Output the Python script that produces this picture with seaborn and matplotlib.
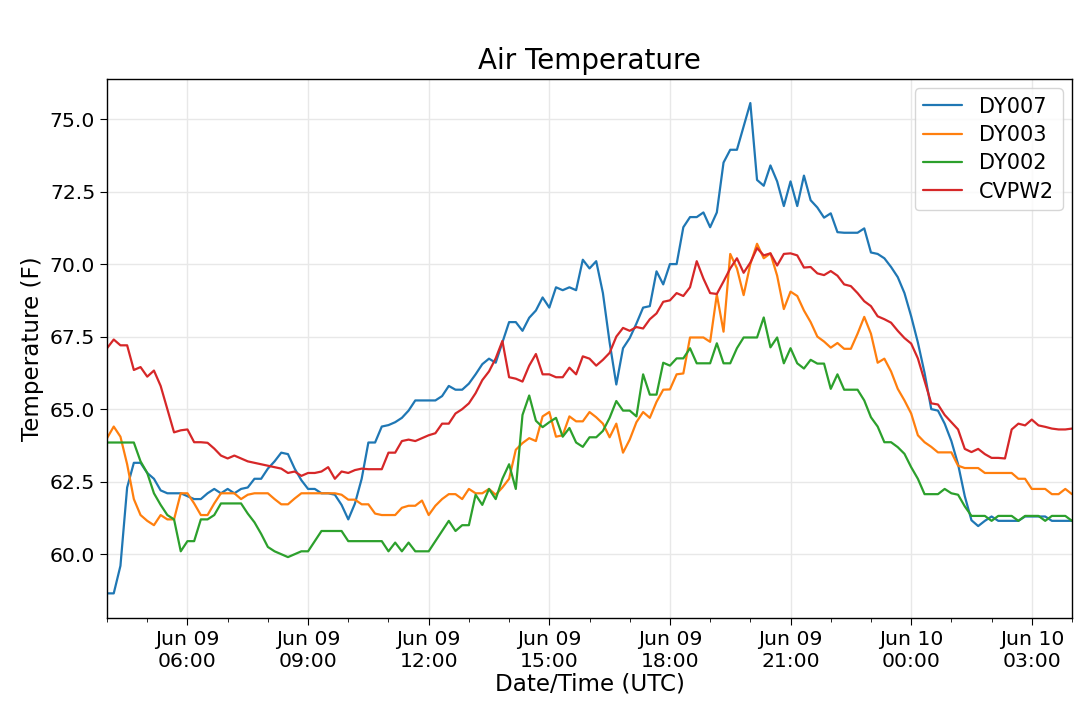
import matplotlib
matplotlib.use('Agg')
import matplotlib.pyplot as plt
import matplotlib.dates as mdates
from matplotlib.ticker import MultipleLocator, FormatStrFormatter
import seaborn as sns
import pandas as pd

# 10-minute readings, Jun 09 04:00 -> Jun 10 04:00 UTC
start = '2019-06-09 04:00'

dy007 = [58.65, 58.65, 59.6, 62.3, 63.15, 63.15, 62.8, 62.6, 62.2, 62.1, 62.1, 62.1, 62.0, 61.9, 61.9, 62.1, 62.25, 62.1, 62.25, 62.1, 62.25, 62.3,
         62.6, 62.6, 62.95, 63.2, 63.5, 63.45, 62.95, 62.55, 62.25, 62.25, 62.1, 62.1, 62.05, 61.7, 61.2, 61.75, 62.6, 63.85, 63.85, 64.4, 64.45,
         64.55, 64.7, 64.95, 65.3, 65.3, 65.3, 65.3, 65.45, 65.8, 65.67, 65.67, 65.88, 66.2, 66.55, 66.74, 66.6, 67.3, 68.0, 68.0, 67.7, 68.15,
         68.4, 68.85, 68.5, 69.2, 69.1, 69.2, 69.1, 70.15, 69.85, 70.1, 69.0, 67.3, 65.85, 67.1, 67.45, 67.95, 68.5, 68.55, 69.75, 69.3, 70.0,
         70.0, 71.27, 71.62, 71.62, 71.78, 71.27, 71.78, 73.5, 73.94, 73.94, 74.75, 75.55, 72.9, 72.7, 73.4, 72.85, 72.0, 72.85, 72.0, 73.05, 72.2,
         71.95, 71.6, 71.75, 71.1, 71.08, 71.08, 71.08, 71.23, 70.4, 70.35, 70.2, 69.9, 69.55, 69.0, 68.2, 67.3, 66.25, 65.0, 64.95, 64.5, 63.9,
         63.1, 62.0, 61.17, 60.97, 61.15, 61.3, 61.15, 61.15, 61.15, 61.15, 61.3, 61.3, 61.3, 61.3, 61.15, 61.15, 61.15, 61.15]

dy003 = [64.0, 64.4, 64.05, 63.1, 61.9, 61.35, 61.15, 61.0, 61.35, 61.2, 61.2, 62.1, 62.1, 61.75, 61.35, 61.35, 61.75, 62.1, 62.1, 62.1, 61.9, 62.05,
         62.1, 62.1, 62.1, 61.9, 61.72, 61.72, 61.92, 62.1, 62.1, 62.1, 62.1, 62.1, 62.1, 62.05, 61.88, 61.88, 61.72, 61.72, 61.4, 61.35, 61.35,
         61.35, 61.6, 61.67, 61.67, 61.85, 61.35, 61.67, 61.9, 62.07, 62.07, 61.9, 62.25, 62.1, 62.1, 62.25, 62.05, 62.3, 62.6, 63.6, 63.83, 64.0,
         63.9, 64.75, 64.9, 64.05, 64.1, 64.75, 64.58, 64.58, 64.9, 64.72, 64.5, 64.03, 64.5, 63.5, 63.95, 64.55, 64.9, 64.7, 65.25, 65.67, 65.68,
         66.2, 66.23, 67.47, 67.47, 67.47, 67.32, 68.95, 67.67, 70.35, 69.85, 68.93, 70.0, 70.7, 70.2, 70.37, 69.6, 68.45, 69.05, 68.9, 68.4, 68.0,
         67.5, 67.33, 67.12, 67.28, 67.08, 67.08, 67.6, 68.18, 67.6, 66.6, 66.74, 66.3, 65.7, 65.3, 64.85, 64.1, 63.86, 63.7, 63.51, 63.51, 63.51,
         63.05, 62.97, 62.97, 62.97, 62.8, 62.8, 62.8, 62.8, 62.8, 62.6, 62.6, 62.25, 62.25, 62.25, 62.07, 62.07, 62.25, 62.07]

dy002 = [63.85, 63.85, 63.85, 63.85, 63.85, 63.2, 62.8, 62.1, 61.7, 61.35, 61.2, 60.1, 60.45, 60.45, 61.2, 61.2, 61.35, 61.75, 61.75, 61.75, 61.75, 61.4,
         61.1, 60.7, 60.25, 60.1, 60.0, 59.9, 60.0, 60.1, 60.1, 60.45, 60.8, 60.8, 60.8, 60.8, 60.45, 60.45, 60.45, 60.45, 60.45, 60.45, 60.1,
         60.4, 60.1, 60.4, 60.1, 60.1, 60.1, 60.45, 60.8, 61.15, 60.8, 61.0, 61.0, 62.05, 61.7, 62.25, 61.9, 62.6, 63.1, 62.25, 64.8, 65.47,
         64.6, 64.38, 64.55, 64.7, 64.05, 64.35, 63.85, 63.7, 64.03, 64.03, 64.25, 64.7, 65.28, 64.95, 64.95, 64.75, 66.2, 65.5, 65.5, 66.6, 66.5,
         66.75, 66.75, 67.1, 66.58, 66.58, 66.58, 67.27, 66.58, 66.58, 67.1, 67.47, 67.47, 67.47, 68.16, 67.13, 67.47, 66.58, 67.1, 66.58, 66.4, 66.7,
         66.57, 66.57, 65.7, 66.2, 65.67, 65.67, 65.67, 65.3, 64.72, 64.4, 63.86, 63.86, 63.69, 63.46, 63.0, 62.6, 62.07, 62.07, 62.07, 62.25, 62.1,
         62.05, 61.65, 61.32, 61.32, 61.32, 61.15, 61.32, 61.32, 61.32, 61.15, 61.32, 61.32, 61.32, 61.15, 61.32, 61.32, 61.32, 61.15]

cvpw2 = [67.1, 67.4, 67.2, 67.2, 66.35, 66.45, 66.12, 66.33, 65.8, 65.0, 64.2, 64.27, 64.3, 63.86, 63.86, 63.84, 63.64, 63.4, 63.3, 63.4, 63.3, 63.2,
         63.15, 63.1, 63.05, 63.0, 62.95, 62.8, 62.85, 62.7, 62.8, 62.8, 62.85, 63.0, 62.6, 62.85, 62.8, 62.9, 62.95, 62.93, 62.93, 62.93, 63.5,
         63.5, 63.9, 63.95, 63.9, 64.0, 64.1, 64.17, 64.5, 64.5, 64.85, 65.0, 65.2, 65.55, 66.0, 66.3, 66.75, 67.35, 66.1, 66.05, 65.95, 66.5,
         66.9, 66.2, 66.2, 66.1, 66.1, 66.43, 66.2, 66.82, 66.74, 66.5, 66.7, 66.94, 67.5, 67.8, 67.7, 67.83, 67.78, 68.1, 68.3, 68.7, 68.75,
         69.0, 68.9, 69.2, 70.1, 69.5, 69.0, 68.97, 69.4, 69.85, 70.2, 69.7, 70.05, 70.55, 70.3, 70.37, 69.95, 70.35, 70.37, 70.3, 69.88, 69.9,
         69.68, 69.62, 69.76, 69.6, 69.3, 69.24, 69.0, 68.72, 68.55, 68.2, 68.1, 67.98, 67.7, 67.45, 67.26, 66.75, 65.98, 65.2, 65.16, 64.8, 64.55,
         64.3, 63.63, 63.52, 63.63, 63.45, 63.32, 63.32, 63.3, 64.3, 64.5, 64.44, 64.64, 64.44, 64.39, 64.33, 64.3, 64.3, 64.33]

stations = ['DY007', 'DY003', 'DY002', 'CVPW2']
series = [dy007, dy003, dy002, cvpw2]

times = pd.date_range(start, periods=len(dy007), freq='10min')
frames = []
for name, vals in zip(stations, series):
    frames.append(pd.DataFrame({'time': times, 'temp': vals, 'station': name}))
df = pd.concat(frames, ignore_index=True)

sns.set_style('ticks')
plt.rcParams['font.family'] = ['DejaVu Sans']
plt.rcParams['text.color'] = 'black'
plt.rcParams['axes.labelcolor'] = 'black'
plt.rcParams['xtick.color'] = 'black'
plt.rcParams['ytick.color'] = 'black'

fig = plt.figure(figsize=(10.79, 7.09), dpi=100)
ax = fig.add_axes([0.0992, 0.1283, 0.8943, 0.7603])

sns.lineplot(data=df, x='time', y='temp', hue='station', hue_order=stations,
             palette=sns.color_palette('tab10', 4), linewidth=1.6, ax=ax)

ax.set_xlim(times[0], times[-1])
ax.set_ylim(57.8, 76.38)
ax.yaxis.set_major_locator(MultipleLocator(2.5))
ax.yaxis.set_major_formatter(FormatStrFormatter('%.1f'))
ax.xaxis.set_major_locator(mdates.HourLocator(byhour=[0, 3, 6, 9, 12, 15, 18, 21]))
ax.xaxis.set_minor_locator(mdates.HourLocator())
ax.xaxis.set_major_formatter(mdates.DateFormatter('%b %d\n%H:%M'))

ax.grid(True, which='major', color='#e8e8e8', linewidth=1)
ax.tick_params(axis='both', which='major', labelsize=14.7, length=5)
ax.tick_params(axis='x', which='minor', length=3)
for s in ax.spines.values():
    s.set_color('k')
    s.set_linewidth(1)

ax.set_title('Air Temperature', fontsize=20, pad=7)
ax.set_xlabel('Date/Time (UTC)', fontsize=16.6, labelpad=1)
ax.set_ylabel('Temperature (F)', fontsize=16.6)

leg = ax.legend(loc='upper right', fontsize=15, frameon=True, borderaxespad=0.45,
                labelspacing=0.4, handlelength=1.9)
leg.get_frame().set_edgecolor('#cccccc')

fig.savefig('out.png', dpi=100)
